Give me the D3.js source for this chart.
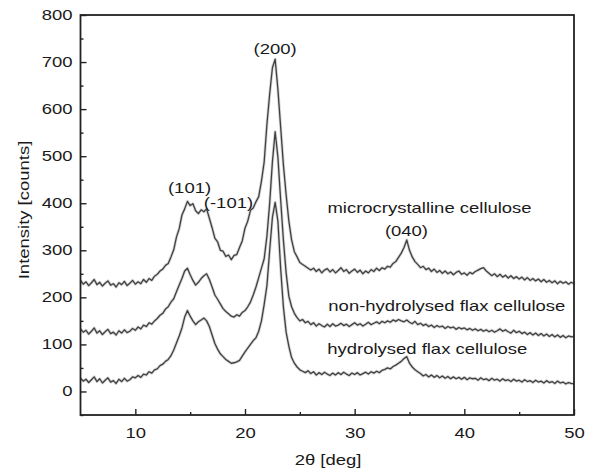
<!DOCTYPE html>
<html><head><meta charset="utf-8">
<script src="https://cdn.jsdelivr.net/npm/d3@7/dist/d3.min.js"></script>
<style>
html,body{margin:0;padding:0;background:#fff;}
svg{display:block;font-family:"Liberation Sans",Arial,sans-serif;}
</style></head>
<body><div id="chart"></div>
<script>
/* XRD patterns of three cellulose samples, 2theta 5..50 deg read every 0.25 deg */
var thetaStart=5, thetaStep=0.25;

// microcrystalline cellulose (one row = one degree)
var mcc=[
 236,228,233,225, 231,238,227,232, 224,230,235,226, 229,222,231,227, 234,225,230,236,
 228,233,229,238, 232,240,236,245, 249,256,260,268, 272,286,301,328, 346,375,388,404,
 395,399,384,378, 386,382,388,368, 348,326,318,300, 298,287,290,280, 289,291,306,320,
 347,362,385,390, 403,414,447,488, 568,632,688,706, 642,562,482,418, 362,322,297,286,
 274,270,266,262, 258,262,255,260, 252,258,261,254, 259,252,257,263, 255,259,251,256,
 260,253,258,250, 256,252,259,255, 262,257,263,260, 266,264,272,276, 285,294,306,322,
 300,286,276,270, 263,266,259,262, 255,260,253,257, 251,256,250,254, 248,253,256,249,
 252,247,253,250, 255,258,261,263, 256,251,246,250, 244,249,243,247, 241,246,240,244,
 239,243,237,242, 236,240,235,239, 233,238,232,236, 231,235,229,234, 230,233,228,232,
 229];

// non-hydrolysed flax cellulose
var nonHydrolysed=[
 133,126,130,122, 128,135,124,129, 121,127,132,123, 126,120,129,124, 131,125,128,134,
 130,137,133,141, 138,146,143,150, 155,162,166,175, 180,190,197,212, 226,240,256,262,
 248,236,226,232, 240,246,250,238, 222,205,196,186, 176,170,165,160, 158,163,160,168,
 172,180,190,205, 222,242,262,282, 330,400,488,552, 498,408,322,252, 202,180,166,157,
 150,153,146,149, 142,146,139,144, 140,137,143,138, 144,139,141,145, 140,143,138,142,
 146,141,144,139, 143,147,142,145, 148,144,149,146, 150,147,152,149, 153,150,148,152,
 147,144,149,142, 145,140,143,138, 141,136,140,137, 139,134,138,135, 137,132,136,133,
 135,131,134,130, 133,129,132,128, 131,127,130,126, 129,133,128,131, 127,124,130,125,
 128,123,126,121, 125,120,124,119, 123,118,122,117, 121,116,120,115, 119,114,118,116,
 117];

// hydrolysed flax cellulose
var hydrolysed=[
 28,22,26,19, 25,31,21,27, 18,24,29,20, 23,17,26,21, 28,22,25,31,
 29,34,30,37, 35,42,39,46, 48,55,58,64, 68,76,88,103, 118,135,158,172,
 160,150,142,148, 152,156,150,138, 120,102,90,80, 74,68,64,60, 61,63,66,75,
 84,92,100,108, 114,128,150,185, 225,300,370,402, 362,262,180,126, 96,72,60,52,
 46,43,40,44, 38,42,35,40, 36,41,37,34, 39,35,40,36, 41,37,34,39,
 36,40,35,38, 41,37,42,39, 43,40,45,47, 50,48,53,56, 60,64,70,74,
 60,52,46,42, 38,33,36,31, 35,30,34,29, 33,28,32,27, 31,27,30,26,
 30,25,29,27, 28,24,29,25, 27,23,28,24, 26,22,27,23, 25,21,26,22,
 24,20,25,21, 23,19,24,20, 22,18,23,19, 21,17,22,18, 20,16,19,17,
 16];

var xTicks=[10,20,30,40,50];
var yTicks=[0,100,200,300,400,500,600,700,800];

// text labels placed in data units [2theta, counts]
var notes=[
 {t:"(200)",x:22.75,y:717,a:"middle"},
 {t:"(101)",x:14.94,y:421,a:"middle"},
 {t:"(-101)",x:18.49,y:389,a:"middle"},
 {t:"(040)",x:34.72,y:330,a:"middle"},
 {t:"microcrystalline cellulose",x:27.52,y:379,a:"start"},
 {t:"non-hydrolysed flax cellulose",x:27.6,y:172,a:"start"},
 {t:"hydrolysed flax cellulose",x:27.5,y:79,a:"start"}
];

var W=593,H=471, SX=1.32; // SX: the source lettering is wide
var x=d3.scaleLinear().domain([5,50]).range([80.5,574]);
var y=d3.scaleLinear().domain([-50,800]).range([415,15]);

var svg=d3.select("#chart").append("svg").attr("width",W).attr("height",H);

// curves: soft grey halo + dark core, like the scanned noisy traces
var line=d3.line().x(function(d,i){return x(thetaStart+i*thetaStep);}).y(function(d){return y(d);});
[mcc,nonHydrolysed,hydrolysed].forEach(function(s){
    svg.append("path").attr("d",line(s)).attr("fill","none").attr("stroke","#999")
        .attr("stroke-width",3).attr("stroke-opacity",0.4).attr("stroke-linejoin","round");
    svg.append("path").attr("d",line(s)).attr("fill","none").attr("stroke","#404040")
        .attr("stroke-width",1.3).attr("stroke-linejoin","round");
});

// frame
svg.append("rect").attr("x",x(5)).attr("y",y(800)).attr("width",x(50)-x(5)).attr("height",y(-50)-y(800))
    .attr("fill","none").attr("stroke","#222").attr("stroke-width",1.8);

// minor ticks
svg.append("g").attr("transform","translate("+x(5)+",0)")
    .call(d3.axisLeft(y).tickValues(d3.range(-50,800,100)).tickSize(-3).tickFormat(""))
    .call(function(g){g.select(".domain").remove();g.selectAll("line").attr("stroke","#222").attr("stroke-width",1.4);});
svg.append("g").attr("transform","translate(0,"+y(-50)+")")
    .call(d3.axisBottom(x).tickValues([15,25,35,45]).tickSize(-3).tickFormat(""))
    .call(function(g){g.select(".domain").remove();g.selectAll("line").attr("stroke","#222").attr("stroke-width",1.4);});

// major ticks + labels
function styleAxis(g){
    g.select(".domain").remove();
    g.selectAll("line").attr("stroke","#222").attr("stroke-width",1.4);
    g.selectAll("text").attr("fill","#1a1a1a").style("font-size","14px");
}
var ya=svg.append("g").attr("transform","translate("+x(5)+",0)")
    .call(d3.axisLeft(y).tickValues(yTicks).tickSize(-6).tickPadding(8).tickFormat(d3.format("d")))
    .call(styleAxis);
ya.selectAll("text").attr("x",-8/SX).attr("transform","scale("+SX+",1)");
var xa=svg.append("g").attr("transform","translate(0,"+y(-50)+")")
    .call(d3.axisBottom(x).tickValues(xTicks).tickSize(-6).tickPadding(13).tickFormat(d3.format("d")))
    .call(styleAxis);
xa.selectAll("text").attr("transform","scale("+SX+",1)");

// axis titles
svg.append("text").attr("transform","translate(29,210) rotate(-90) scale("+SX+",1)")
    .attr("text-anchor","middle").style("font-size","14px").attr("fill","#1a1a1a").text("Intensity [counts]");
svg.append("text").attr("transform","translate(328,465) scale("+SX+",1)")
    .attr("text-anchor","middle").style("font-size","14px").attr("fill","#1a1a1a").text("2\u03B8 [deg]");

// peak / sample labels
svg.selectAll("text.note").data(notes).enter().append("text").attr("class","note")
    .attr("transform",function(d){return "translate("+x(d.x)+","+y(d.y)+") scale("+SX+",1)";})
    .attr("text-anchor",function(d){return d.a;}).style("font-size","14px").attr("fill","#1a1a1a")
    .text(function(d){return d.t;});
</script>
</body></html>
